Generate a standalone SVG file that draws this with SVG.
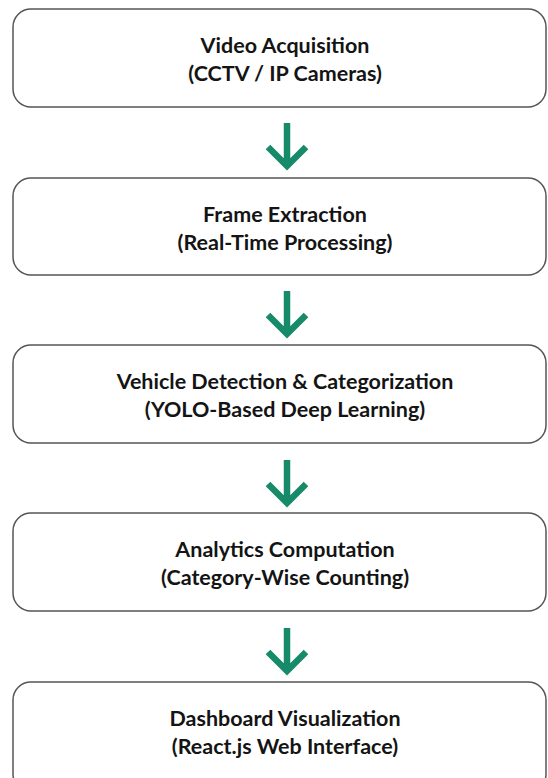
<svg xmlns="http://www.w3.org/2000/svg" width="548" height="778" viewBox="0 0 548 778">
  <defs>
    <style>
      .box { fill: #ffffff; stroke: #555555; stroke-width: 1.5; }
      .lbl { font-family: "Lato", "Open Sans", "Liberation Sans", sans-serif; font-weight: bold; font-size: 21.5px; fill: #141414; text-anchor: middle; }
      .arrow { fill: none; stroke: #178a69; stroke-width: 6.5; stroke-linejoin: miter; }
    </style>
  </defs>
  <rect x="0" y="0" width="548" height="778" fill="#ffffff"/>
  <g id="node-video-acquisition">
    <rect class="box" x="13" y="9" width="533" height="98" rx="18" ry="18"/>
    <text class="lbl" x="285" y="53">Video Acquisition</text>
    <text class="lbl" x="285" y="81">(CCTV / IP Cameras)</text>
  </g>
  <g id="node-frame-extraction">
    <rect class="box" x="13" y="178" width="533" height="97" rx="18" ry="18"/>
    <text class="lbl" x="285" y="222">Frame Extraction</text>
    <text class="lbl" x="285" y="250">(Real-Time Processing)</text>
  </g>
  <g id="node-vehicle-detection">
    <rect class="box" x="13" y="345" width="533" height="98" rx="18" ry="18"/>
    <text class="lbl" x="285" y="389">Vehicle Detection &amp; Categorization</text>
    <text class="lbl" x="285" y="417">(YOLO-Based Deep Learning)</text>
  </g>
  <g id="node-analytics">
    <rect class="box" x="13" y="513" width="533" height="98" rx="18" ry="18"/>
    <text class="lbl" x="285" y="557">Analytics Computation</text>
    <text class="lbl" x="285" y="585">(Category-Wise Counting)</text>
  </g>
  <g id="node-dashboard">
    <rect class="box" x="13" y="682" width="533" height="110" rx="18" ry="18"/>
    <text class="lbl" x="285" y="726">Dashboard Visualization</text>
    <text class="lbl" x="285" y="754">(React.js Web Interface)</text>
  </g>
  <g id="connectors">
    <path class="arrow" d="M287 123 V165 M268 147 L287 166 L306 147"/>
    <path class="arrow" d="M287 291 V333 M268 315 L287 334 L306 315"/>
    <path class="arrow" d="M287 460 V502 M268 484 L287 503 L306 484"/>
    <path class="arrow" d="M287 628 V670 M268 652 L287 671 L306 652"/>
  </g>
</svg>
